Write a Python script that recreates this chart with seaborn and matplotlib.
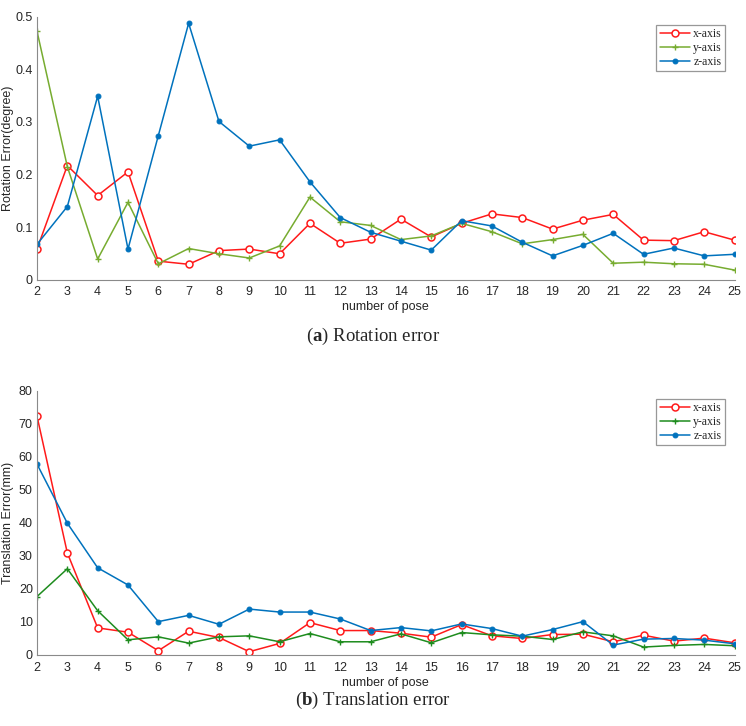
import numpy as np
import pandas as pd
import seaborn as sns
import matplotlib.pyplot as plt

poses = list(range(2, 26))

rot_x = [0.058, 0.217, 0.160, 0.205, 0.035, 0.029, 0.055, 0.058, 0.049, 0.107, 0.069, 0.077,
         0.115, 0.081, 0.107, 0.125, 0.118, 0.096, 0.113, 0.124, 0.075, 0.074, 0.091, 0.075]
rot_y = [0.473, 0.215, 0.039, 0.147, 0.030, 0.059, 0.049, 0.041, 0.064, 0.157, 0.110, 0.103,
         0.076, 0.083, 0.107, 0.091, 0.068, 0.076, 0.086, 0.031, 0.033, 0.030, 0.029, 0.018]
rot_z = [0.067, 0.139, 0.349, 0.058, 0.274, 0.488, 0.301, 0.254, 0.266, 0.186, 0.118, 0.090,
         0.073, 0.056, 0.112, 0.102, 0.071, 0.045, 0.065, 0.088, 0.048, 0.060, 0.045, 0.048]

trans_x = [72.3, 30.9, 8.2, 6.9, 1.3, 7.2, 5.3, 1.0, 3.5, 9.8, 7.4, 7.4,
           6.6, 5.4, 9.2, 5.8, 5.0, 6.2, 6.3, 4.0, 6.0, 4.2, 5.1, 3.7]
trans_y = [17.7, 26.1, 13.4, 4.6, 5.5, 3.6, 5.5, 5.8, 4.0, 6.5, 4.0, 4.0,
           6.4, 3.7, 6.8, 6.1, 5.7, 4.7, 7.0, 5.8, 2.4, 2.9, 3.2, 2.8]
trans_z = [57.8, 39.9, 26.4, 21.2, 10.1, 12.0, 9.3, 13.9, 13.0, 13.0, 10.9, 7.4,
           8.3, 7.3, 9.4, 8.0, 5.7, 7.7, 10.1, 3.0, 4.8, 5.0, 4.5, 3.4]

labels = ['x-axis', 'y-axis', 'z-axis']

sns.set_theme(style='white')
plt.rcParams['font.family'] = ['Liberation Sans', 'DejaVu Sans']
plt.rcParams['mathtext.fontset'] = 'custom'
plt.rcParams['mathtext.rm'] = 'Liberation Serif'
plt.rcParams['mathtext.bf'] = 'Liberation Serif:bold'

RED = '#ff1a1a'
BLUE = '#0072bd'
GREEN_A = '#77ac30'
GREEN_B = '#1e8c1e'
GRAY = '#8a8a8a'


def draw_panel(ax, xs, ys, zs, green, ylabel, ylim, yticks):
    df = pd.DataFrame({'pose': poses, 'x': xs, 'y': ys, 'z': zs})
    sns.lineplot(data=df, x='pose', y='x', ax=ax, color=RED, lw=1.1, marker='o',
                 markersize=5, markerfacecolor='white', markeredgecolor=RED,
                 markeredgewidth=1.1, label=labels[0])
    sns.lineplot(data=df, x='pose', y='y', ax=ax, color=green, lw=1.1, marker='+',
                 markersize=5, markeredgecolor=green, markeredgewidth=1.0, label=labels[1])
    sns.lineplot(data=df, x='pose', y='z', ax=ax, color=BLUE, lw=1.1, marker='o',
                 markersize=3.5, markerfacecolor=BLUE, markeredgecolor=BLUE, label=labels[2])
    ax.set_xlim(2, 25)
    ax.set_ylim(*ylim)
    ax.set_xticks(poses)
    ax.set_yticks(yticks)
    ax.set_yticklabels([f'{t:g}' for t in yticks])
    ax.set_xlabel('number of pose', fontsize=9, color='#262626', labelpad=2)
    ax.set_ylabel(ylabel, fontsize=9, color='#262626')
    ax.yaxis.set_label_coords(-0.033, 0.5)
    ax.tick_params(axis='both', direction='in', length=4, width=0.8, color=GRAY,
                   labelsize=9, labelcolor='#262626', pad=3)
    ax.tick_params(axis='x', pad=5)
    for side in ['top', 'right']:
        ax.spines[side].set_visible(False)
    for side in ['left', 'bottom']:
        ax.spines[side].set_color(GRAY)
        ax.spines[side].set_linewidth(0.8)
    leg = ax.legend(loc='upper right', bbox_to_anchor=(0.987, 0.97),
                    prop={'family': 'Liberation Serif', 'size': 8.5},
                    frameon=True, fancybox=False, handlelength=2.6, handletextpad=0.25,
                    borderpad=0.3, labelspacing=0.15, borderaxespad=0.0)
    leg.get_frame().set_edgecolor('#7f7f7f')
    leg.get_frame().set_linewidth(0.9)


fig = plt.figure(figsize=(7.46, 7.26), dpi=100)
ax1 = fig.add_axes([0.0496, 0.615, 0.935, 0.3616])
ax2 = fig.add_axes([0.0496, 0.0978, 0.935, 0.364])

draw_panel(ax1, rot_x, rot_y, rot_z, GREEN_A, 'Rotation Error(degree)', (0, 0.5),
           [0, 0.1, 0.2, 0.3, 0.4, 0.5])
draw_panel(ax2, trans_x, trans_y, trans_z, GREEN_B, 'Translation Error(mm)', (0, 80),
           list(range(0, 81, 10)))

fig.text(0.5, 0.537, r'($\mathbf{a}$) Rotation error', ha='center', va='center',
         fontsize=13.5, family='Liberation Serif')
fig.text(0.5, 0.035, r'($\mathbf{b}$) Translation error', ha='center', va='center',
         fontsize=13.5, family='Liberation Serif')

fig.savefig('out.png', dpi=100, facecolor='white')
